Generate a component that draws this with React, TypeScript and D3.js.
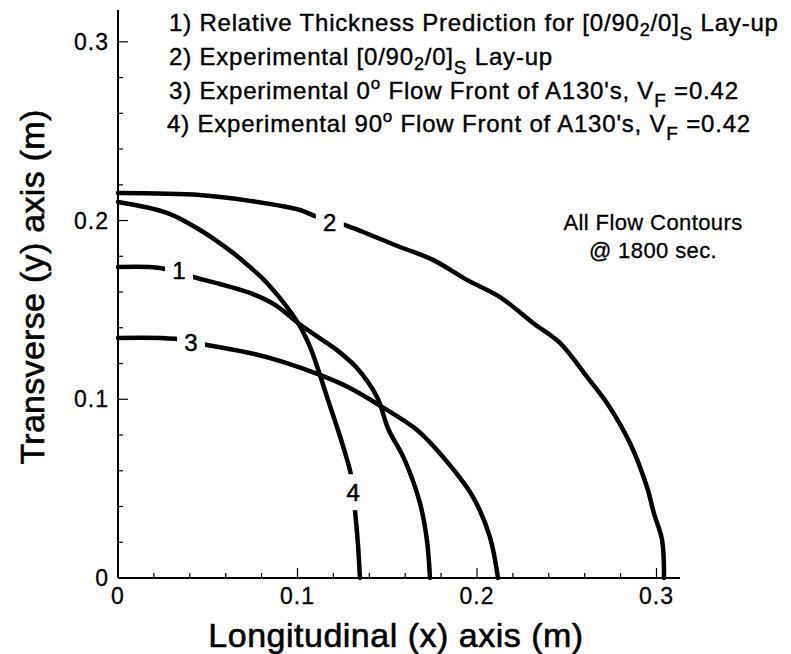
import * as d3 from "d3";

// flow front contours (x, y in metres)
const curve1: [number, number][] = [
  [0, 0.174], [0.0234, 0.1735], [0.0418, 0.1684], [0.0568, 0.1645], [0.0735, 0.1595],
  [0.0875, 0.1528], [0.1003, 0.1427], [0.1109, 0.1352], [0.122, 0.1275], [0.1331, 0.1175],
  [0.1443, 0.1013], [0.1505, 0.0835], [0.1595, 0.0665], [0.1682, 0.042], [0.1721, 0.0213],
  [0.1738, 0],
];
const curve2: [number, number][] = [
  [0, 0.2154], [0.0457, 0.2143], [0.0735, 0.211], [0.1014, 0.2059], [0.1109, 0.202],
  [0.1265, 0.1975], [0.1571, 0.1852], [0.1755, 0.178], [0.1944, 0.1668], [0.2128, 0.1572],
  [0.2312, 0.1427], [0.2462, 0.1315], [0.2613, 0.1125], [0.2724, 0.0979], [0.2852, 0.0755],
  [0.2947, 0.0509], [0.2985, 0.0364], [0.3031, 0.0213], [0.3042, 0],
];
const curve3: [number, number][] = [
  [0, 0.1343], [0.0318, 0.1338], [0.0496, 0.1304], [0.0735, 0.1259], [0.0919, 0.1209],
  [0.1125, 0.1136], [0.1292, 0.1063], [0.1471, 0.0957], [0.1666, 0.0828], [0.1811, 0.0677],
  [0.1978, 0.0453], [0.2072, 0.0229], [0.2117, 0],
];
const curve4: [number, number][] = [
  [0, 0.2104], [0.0273, 0.2043], [0.0457, 0.1947], [0.0641, 0.1819], [0.0735, 0.174],
  [0.083, 0.1651], [0.1003, 0.1427], [0.107, 0.1293], [0.1125, 0.1136], [0.117, 0.0996],
  [0.122, 0.0845], [0.1272, 0.0677], [0.1298, 0.0575], [0.132, 0.038], [0.1337, 0.0185],
  [0.1348, 0],
];
const curves = [curve1, curve2, curve3, curve4];

// curve number labels sitting in gaps of the lines
const labelNames = ["1", "2", "3", "4"];
const labelX = [0.034, 0.118, 0.0407, 0.131];
const labelY = [0.172, 0.199, 0.1315, 0.048];

const majorTicks = [0, 0.1, 0.2, 0.3];
const tickLabels = ["0", "0.1", "0.2", "0.3"];

const W = 791;
const H = 654;
const margin = {top: 10, right: 111, bottom: 76, left: 118};

const x = d3.scaleLinear().domain([0, 0.3131]).range([margin.left, W - margin.right]);
const y = d3.scaleLinear().domain([0, 0.3178]).range([H - margin.bottom, margin.top]);

export default function App() {
  const line = d3.line<[number, number]>()
    .x(d => x(d[0]))
    .y(d => y(d[1]))
    .curve(d3.curveCatmullRom.alpha(0.5));

  const x0 = x(0);
  const y0 = y(0);
  const isMajor = (v: number) => majorTicks.some(m => Math.abs(m - v) < 1e-6);

  return (
    <svg width={W} height={H} style={{position: "absolute", left: 0, top: 0}}
         fontFamily="'Liberation Sans', Arial, Helvetica, sans-serif">
      <rect width={W} height={H} fill="#fff"/>

      {curves.map((c, i) => (
        <path key={i} d={line(c)!} fill="none" stroke="#000" strokeWidth={4.5}
              strokeLinejoin="round" strokeLinecap="round"/>
      ))}

      {labelNames.map((n, i) => (
        <g key={n}>
          <rect x={x(labelX[i]) - 14} y={y(labelY[i]) - 18} width={28} height={36} fill="#fff"/>
          <text x={x(labelX[i])} y={y(labelY[i])} dy="0.35em" textAnchor="middle" fontSize={24}
                stroke="#000" strokeWidth={0.5}>{n}</text>
        </g>
      ))}

      {/* axes */}
      <line x1={x0} x2={x0} y1={y0} y2={y.range()[1]} stroke="#000" strokeWidth={2}/>
      <line x1={x0} x2={x.range()[1]} y1={y0} y2={y0} stroke="#000" strokeWidth={2}/>

      {x.ticks(15).map(t => (
        <line key={"xt" + t} x1={x(t)} x2={x(t)} y1={y0} y2={y0 - (isMajor(t) ? 10 : 5)}
              stroke="#000" strokeWidth={1.2}/>
      ))}
      {y.ticks(15).map(t => (
        <line key={"yt" + t} x1={x0} x2={x0 + (isMajor(t) ? 10 : 5)} y1={y(t)} y2={y(t)}
              stroke="#000" strokeWidth={1.2}/>
      ))}

      <g fontSize={23} letterSpacing={1} stroke="#000" strokeWidth={0.3}>
        {majorTicks.map((t, i) => (
          <text key={"xl" + t} x={x(t)} y={y0 + 26} textAnchor="middle">{tickLabels[i]}</text>
        ))}
        {majorTicks.map((t, i) => (
          <text key={"yl" + t} x={x0 - 9} y={y(t)} dy="0.35em" textAnchor="end">{tickLabels[i]}</text>
        ))}
      </g>

      <g fontSize={34} stroke="#000" strokeWidth={0.6}>
        <text x={396} y={647} textAnchor="middle" letterSpacing={0.5}>Longitudinal (x) axis (m)</text>
        <text transform="translate(44,287) rotate(-90)" textAnchor="middle" letterSpacing={0.3}>
          Transverse (y) axis (m)
        </text>
      </g>

      {/* legend */}
      <g fontSize={24} letterSpacing={0.8} stroke="#000" strokeWidth={0.4}>
        <text x={169} y={31}>
          1) Relative Thickness Prediction for [0/90<tspan fontSize={18} dy={5}>2</tspan>
          <tspan dy={-5}>/0]</tspan><tspan fontSize={19} dy={9}>S</tspan><tspan dy={-9}> Lay-up</tspan>
        </text>
        <text x={169} y={65}>
          2) Experimental [0/90<tspan fontSize={18} dy={5}>2</tspan>
          <tspan dy={-5}>/0]</tspan><tspan fontSize={19} dy={9}>S</tspan><tspan dy={-9}> Lay-up</tspan>
        </text>
        <text x={169} y={99}>
          3) Experimental 0<tspan fontSize={17} dy={-10}>o</tspan>
          <tspan dy={10}> Flow Front of A130's, V</tspan><tspan fontSize={19} dy={8}>F</tspan>
          <tspan dy={-8}> =0.42</tspan>
        </text>
        <text x={167} y={132}>
          4) Experimental 90<tspan fontSize={17} dy={-10}>o</tspan>
          <tspan dy={10}> Flow Front of A130's, V</tspan><tspan fontSize={19} dy={8}>F</tspan>
          <tspan dy={-8}> =0.42</tspan>
        </text>
      </g>

      <g fontSize={22} letterSpacing={0.4} textAnchor="middle" stroke="#000" strokeWidth={0.3}>
        <text x={653} y={230}>All Flow Contours</text>
        <text x={653} y={258}>@ 1800 sec.</text>
      </g>
    </svg>
  );
}
